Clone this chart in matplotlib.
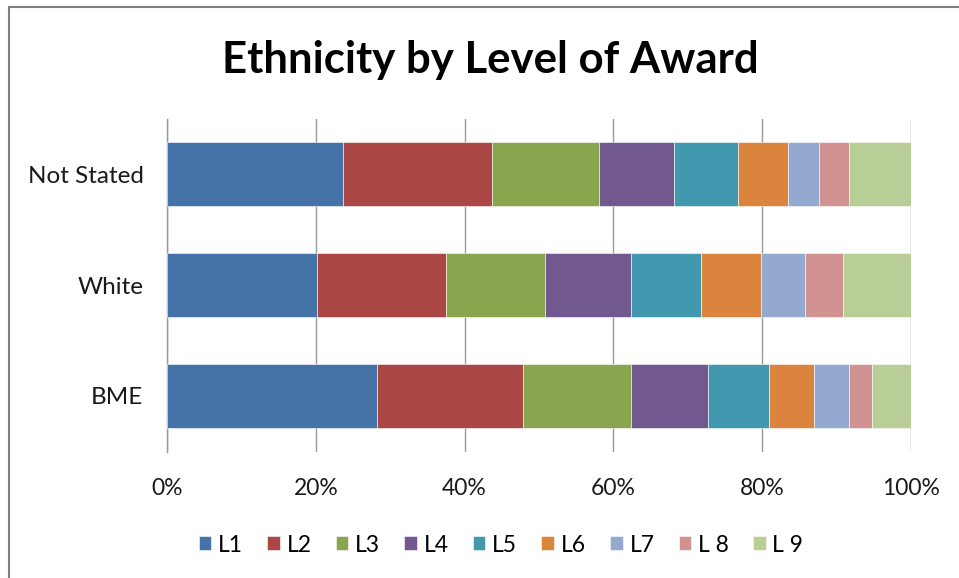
import matplotlib
matplotlib.use("Agg")
import matplotlib.pyplot as plt
import numpy as np

categories = ["BME", "White", "Not Stated"]
series_names = ["L1", "L2", "L3", "L4", "L5", "L6", "L7", "L 8", "L 9"]
# percentage of each category by level (rows follow categories order)
bme = [28.2, 19.6, 14.5, 10.4, 8.2, 6.1, 4.7, 3.1, 5.2]
white = [20.1, 17.4, 13.3, 11.6, 9.4, 8.1, 5.9, 5.0, 9.2]
not_stated = [23.7, 20.0, 14.4, 10.1, 8.6, 6.7, 4.1, 4.1, 8.3]
colors = ["#4572A7", "#AA4643", "#89A54E", "#71588F", "#4198AF",
          "#DB843D", "#93A9CF", "#D19392", "#B9CD96"]
xticks = [0, 20, 40, 60, 80, 100]
xticklabels = ["0%", "20%", "40%", "60%", "80%", "100%"]

plt.rcParams["font.family"] = ["Lato", "DejaVu Sans"]

data = np.array([bme, white, not_stated], dtype=float)
data = data / data.sum(axis=1, keepdims=True) * 100

fig = plt.figure(figsize=(9.59, 5.78), dpi=100)
ax = fig.add_axes([167/959, 1-451.5/578, (911-167)/959, 333/578])

y = np.arange(len(categories))
left = np.zeros(len(categories))
for i, name in enumerate(series_names):
    ax.barh(y, data[:, i], left=left, height=0.575, color=colors[i],
            label=name, edgecolor="white", linewidth=0.4, zorder=3)
    left += data[:, i]

ax.set_xlim(0, 100)
ax.set_ylim(-0.5, len(categories) - 0.5)
ax.set_xticks(xticks)
ax.set_xticklabels(xticklabels)
ax.set_yticks(y)
ax.set_yticklabels(categories)
ax.tick_params(axis="x", length=0, pad=19, labelsize=16.5, colors="#1a1a1a")
ax.tick_params(axis="y", length=0, pad=17, labelsize=17.5, colors="#1a1a1a")
ax.grid(axis="x", color="#9a9a9a", linewidth=1.0, zorder=0)
for s in ["top", "right", "bottom"]:
    ax.spines[s].set_visible(False)
ax.spines["left"].set_color("#9a9a9a")
ax.spines["left"].set_linewidth(1.0)

fig.text(490/959, 1-60/578, "Ethnicity by Level of Award", ha="center",
         va="center", fontsize=31.5, fontweight="bold", color="black")

leg = fig.legend(loc="center", bbox_to_anchor=(501/959, 1-545/578), ncol=9,
                 frameon=False, fontsize=16.5, handlelength=0.55,
                 handleheight=0.55, handletextpad=0.3, columnspacing=1.05)

# outer chart border (partially visible)
fig.add_artist(plt.Line2D([8.5/959, 8.5/959], [0, 1-7/578], color="#808080",
                          linewidth=1.5, transform=fig.transFigure))
fig.add_artist(plt.Line2D([8.5/959, 1], [1-7/578, 1-7/578], color="#808080",
                          linewidth=1.5, transform=fig.transFigure))

fig.savefig("out.png", dpi=100)
